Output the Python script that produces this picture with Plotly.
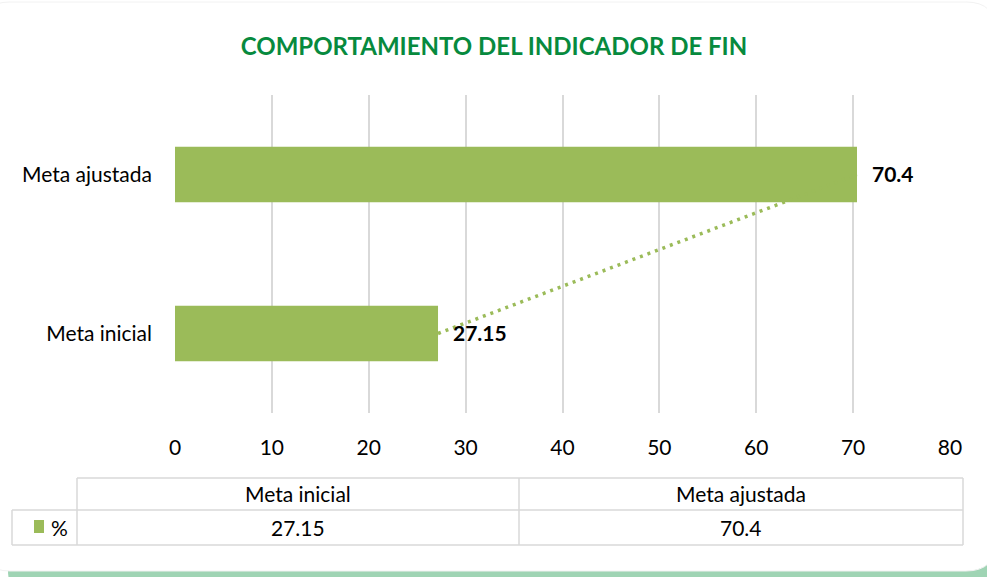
import plotly.graph_objects as go

categories = ["Meta inicial", "Meta ajustada"]
values = [27.15, 70.4]
value_labels = ["27.15", "70.4"]
series_name = "%"
x_ticks = [0, 10, 20, 30, 40, 50, 60, 70, 80]
title = "COMPORTAMIENTO DEL INDICADOR DE FIN"

W, H = 987, 577
L, R, T, B = 175, 950, 95, 413
BAR = "#9bbb59"
GRID = "#d9d9d9"
FONT = "Lato, Carlito, Calibri, sans-serif"


def px(x):
    return (x - L) / (R - L)


def py(y):
    return (B - y) / (B - T)


fig = go.Figure()
# trendline (drawn first so bars cover it)
fig.add_trace(go.Scatter(
    x=values, y=categories, mode="lines",
    line=dict(color=BAR, width=3.5, dash="3px,5px"),
    hoverinfo="skip", showlegend=False,
))
fig.add_trace(go.Bar(
    x=values, y=categories, orientation="h", marker=dict(color=BAR, line=dict(width=0)),
    width=0.35, name=series_name, showlegend=False,
))

for v, c, lab in zip(values, categories, value_labels):
    fig.add_annotation(x=v, y=c, xref="x", yref="y", text="<b>%s</b>" % lab,
                       showarrow=False, xanchor="left", yanchor="middle", xshift=13, yshift=1,
                       font=dict(family=FONT, size=21, color="#000000"))

shapes = []


def rrect(x0, y0, x1, y1, r):
    X0, X1 = px(x0), px(x1)
    Y0, Y1 = py(y0), py(y1)
    rx = r / (R - L)
    ry = r / (B - T)
    return (f"M {X0+rx} {Y0} L {X1-rx} {Y0} Q {X1} {Y0} {X1} {Y0-ry} "
            f"L {X1} {Y1+ry} Q {X1} {Y1} {X1-rx} {Y1} L {X0+rx} {Y1} "
            f"Q {X0} {Y1} {X0} {Y1+ry} L {X0} {Y0-ry} Q {X0} {Y0} {X0+rx} {Y0} Z")


# card shadow + card
shapes.append(dict(type="path", path=rrect(8, 10, 1015, 600, 30), xref="paper", yref="paper",
                   fillcolor="#9fd4b4", line=dict(width=0), layer="below"))
shapes.append(dict(type="path", path=rrect(-20, 2, 996, 571, 30), xref="paper", yref="paper",
                   fillcolor="#ffffff", line=dict(color="#f2f2f2", width=1), layer="below"))

# data table lines
TL = dict(color="#d9d9d9", width=1.5)
x_a, x_b, x_c, x_d = 12, 77, 519, 963
y_a, y_b, y_c = 478, 510, 545


def hline(x0, x1, y):
    shapes.append(dict(type="line", xref="paper", yref="paper", x0=px(x0), x1=px(x1),
                       y0=py(y), y1=py(y), line=TL))


def vline(x, y0, y1):
    shapes.append(dict(type="line", xref="paper", yref="paper", x0=px(x), x1=px(x),
                       y0=py(y0), y1=py(y1), line=TL))


hline(x_b, x_d, y_a)
hline(x_a, x_d, y_b)
hline(x_a, x_d, y_c)
vline(x_a, y_b, y_c)
vline(x_b, y_a, y_c)
vline(x_c, y_a, y_c)
vline(x_d, y_a, y_c)
# legend key
shapes.append(dict(type="rect", xref="paper", yref="paper", x0=px(34), x1=px(44),
                   y0=py(533), y1=py(520), fillcolor=BAR, line=dict(width=0)))

col_centers = [(x_b + x_c) / 2, (x_c + x_d) / 2]
for cx, c, lab in zip(col_centers, categories, value_labels):
    fig.add_annotation(x=px(cx), y=py(493), xref="paper", yref="paper", text=c,
                       xanchor="center", yanchor="middle",
                       showarrow=False, font=dict(family=FONT, size=21, color="#000000"))
    fig.add_annotation(x=px(cx), y=py(527), xref="paper", yref="paper", text=lab,
                       xanchor="center", yanchor="middle",
                       showarrow=False, font=dict(family=FONT, size=21, color="#000000"))
fig.add_annotation(x=px(49), y=py(527), xref="paper", yref="paper", text=series_name,
                   showarrow=False, xanchor="left", yanchor="middle",
                   font=dict(family=FONT, size=21, color="#000000"))

fig.update_layout(
    width=W, height=H,
    margin=dict(l=L, r=W - R, t=T, b=H - B),
    paper_bgcolor="#ffffff", plot_bgcolor="rgba(0,0,0,0)",
    title=dict(text="<b>%s</b>" % title, x=(240 + 748) / 2 / W, xanchor="center",
               y=1 - 47 / H, yanchor="middle",
               font=dict(family=FONT, size=24, color="#078a3e")),
    shapes=shapes,
    showlegend=False,
)
fig.update_xaxes(range=[0, 80], tickvals=x_ticks, ticktext=[str(t) for t in x_ticks],
                 showgrid=True, gridcolor=GRID, gridwidth=1.5, zeroline=False,
                 showline=False, ticks="", ticklabelstandoff=20,
                 tickfont=dict(family=FONT, size=21, color="#000000"), fixedrange=True)
fig.update_yaxes(range=[-0.5, 1.5], categoryorder="array", categoryarray=categories,
                 showgrid=False, zeroline=False, showline=False, ticks="",
                 ticklabelstandoff=22,
                 tickfont=dict(family=FONT, size=21, color="#000000"), fixedrange=True)

fig.write_html("out.html", config={"displayModeBar": False},
               post_script="document.body.style.margin='0';document.body.style.overflow='hidden';")
